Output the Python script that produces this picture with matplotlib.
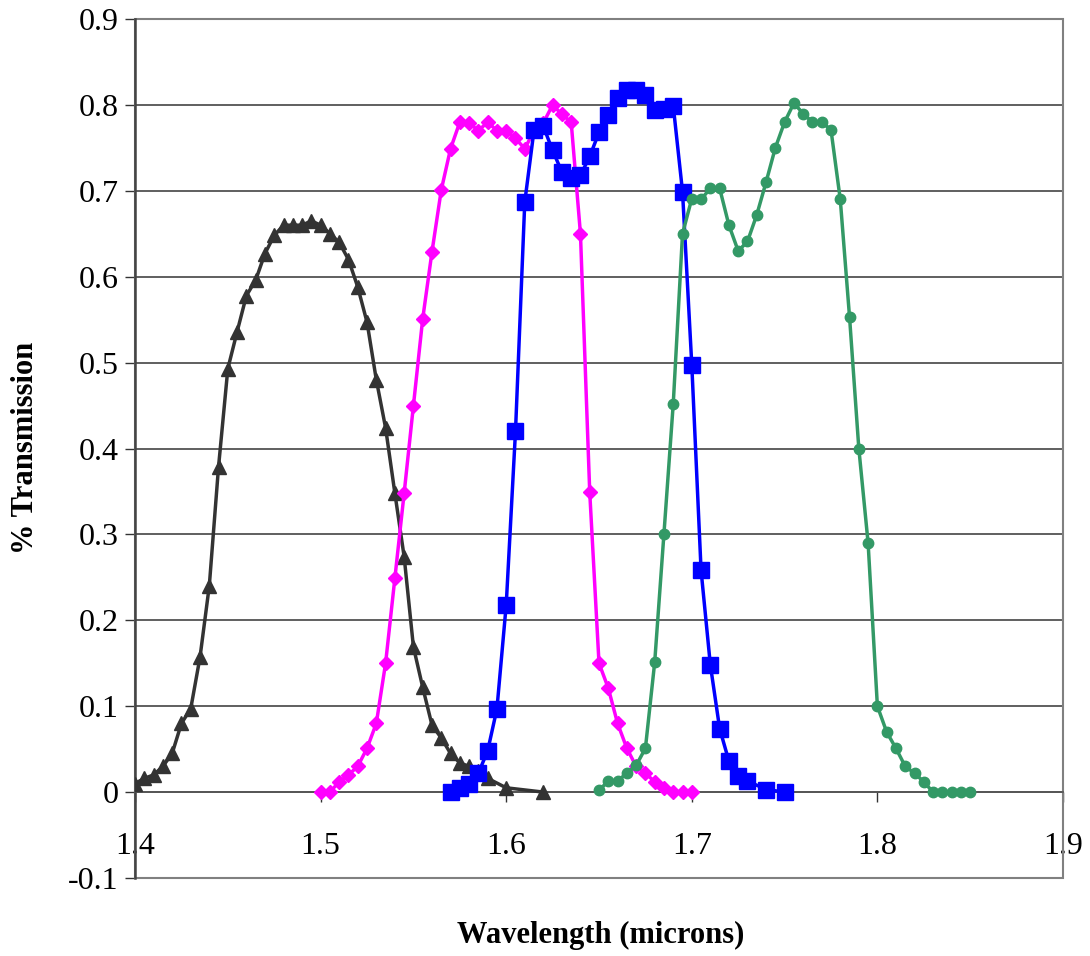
import numpy as np
import matplotlib
matplotlib.use('Agg')
import matplotlib.pyplot as plt
from matplotlib.patches import Rectangle

plt.rcParams['font.family'] = ['Liberation Serif', 'DejaVu Serif']

# filter curves, wavelength (microns) vs transmission
wl_black = [1.400, 1.405, 1.410, 1.415, 1.420, 1.425, 1.430, 1.435, 1.440, 1.445,
            1.450, 1.455, 1.460, 1.465, 1.470, 1.475, 1.480, 1.485, 1.490, 1.495,
            1.500, 1.505, 1.510, 1.515, 1.520, 1.525, 1.530, 1.535, 1.540, 1.545,
            1.550, 1.555, 1.560, 1.565, 1.570, 1.575, 1.580, 1.585, 1.590, 1.600, 1.620]
tr_black = [0.010, 0.016, 0.020, 0.030, 0.045, 0.080, 0.097, 0.157, 0.240, 0.379,
            0.493, 0.536, 0.578, 0.596, 0.627, 0.648, 0.660, 0.660, 0.660, 0.665,
            0.660, 0.650, 0.640, 0.620, 0.588, 0.547, 0.480, 0.424, 0.348, 0.274,
            0.169, 0.122, 0.078, 0.063, 0.045, 0.034, 0.030, 0.024, 0.016, 0.005, 0.000]

wl_pink = [1.500, 1.505, 1.510, 1.515, 1.520, 1.525, 1.530, 1.535, 1.540, 1.545,
           1.550, 1.555, 1.560, 1.565, 1.570, 1.575, 1.580, 1.585, 1.590, 1.595,
           1.600, 1.605, 1.610, 1.615, 1.620, 1.625, 1.630, 1.635, 1.640, 1.645,
           1.650, 1.655, 1.660, 1.665, 1.670, 1.675, 1.680, 1.685, 1.690, 1.695, 1.700]
tr_pink = [0.000, 0.000, 0.012, 0.020, 0.030, 0.051, 0.080, 0.150, 0.249, 0.348,
           0.450, 0.551, 0.629, 0.701, 0.749, 0.780, 0.779, 0.770, 0.780, 0.770,
           0.770, 0.761, 0.749, 0.770, 0.779, 0.800, 0.789, 0.780, 0.650, 0.349,
           0.150, 0.121, 0.080, 0.051, 0.030, 0.022, 0.012, 0.005, 0.000, 0.000, 0.000]

wl_blue = [1.570, 1.575, 1.580, 1.585, 1.590, 1.595, 1.600, 1.605, 1.610, 1.615,
           1.620, 1.625, 1.630, 1.635, 1.640, 1.645, 1.650, 1.655, 1.660, 1.665,
           1.670, 1.675, 1.680, 1.685, 1.690, 1.695, 1.700, 1.705, 1.710, 1.715,
           1.720, 1.725, 1.730, 1.740, 1.750]
tr_blue = [0.000, 0.005, 0.010, 0.022, 0.048, 0.097, 0.218, 0.420, 0.687, 0.771,
           0.775, 0.747, 0.722, 0.715, 0.718, 0.740, 0.768, 0.788, 0.808, 0.817,
           0.817, 0.811, 0.794, 0.795, 0.799, 0.699, 0.497, 0.258, 0.148, 0.074,
           0.036, 0.019, 0.013, 0.003, 0.000]

wl_green = [1.650, 1.655, 1.660, 1.665, 1.670, 1.675, 1.680, 1.685, 1.690, 1.695,
            1.700, 1.705, 1.710, 1.715, 1.720, 1.725, 1.730, 1.735, 1.740, 1.745,
            1.750, 1.755, 1.760, 1.765, 1.770, 1.775, 1.780, 1.785, 1.790, 1.795,
            1.800, 1.805, 1.810, 1.815, 1.820, 1.825, 1.830, 1.835, 1.840, 1.845, 1.850]
tr_green = [0.002, 0.013, 0.013, 0.022, 0.031, 0.051, 0.151, 0.301, 0.452, 0.650,
            0.691, 0.690, 0.703, 0.703, 0.660, 0.630, 0.641, 0.672, 0.710, 0.750,
            0.780, 0.802, 0.790, 0.780, 0.780, 0.771, 0.690, 0.553, 0.400, 0.290,
            0.100, 0.070, 0.051, 0.030, 0.022, 0.012, 0.000, 0.000, 0.000, 0.000, 0.000]

x_ticks = [1.4, 1.5, 1.6, 1.7, 1.8, 1.9]
x_ticklabels = ['1.4', '1.5', '1.6', '1.7', '1.8', '1.9']
y_ticks = [-0.1, 0.0, 0.1, 0.2, 0.3, 0.4, 0.5, 0.6, 0.7, 0.8, 0.9]
y_ticklabels = ['-0.1', '0', '0.1', '0.2', '0.3', '0.4', '0.5', '0.6', '0.7', '0.8', '0.9']


fig = plt.figure(figsize=(10.9, 9.56), dpi=100)
ax = fig.add_axes([0.1239, 0.0816, 0.8513, 0.8985])

ax.set_xlim(1.4, 1.9)
ax.set_ylim(-0.1, 0.9)

for yv in y_ticks:
    ax.axhline(yv, color='#444444', lw=1.2, zorder=1)

lw = 2.5
ax.plot(wl_black, tr_black, color='#333333', lw=lw, marker='^', ms=9.5, zorder=3)
ax.plot(wl_pink, tr_pink, color='#FF00FF', lw=lw, marker='D', ms=7, zorder=4)
ax.plot(wl_blue, tr_blue, color='#0000FF', lw=lw, marker='s', ms=12, zorder=5)
ax.plot(wl_green, tr_green, color='#339966', lw=lw, marker='o', ms=7.5, zorder=6)

# plot area border (gray) and axes through zero
for s in ['top', 'right']:
    ax.spines[s].set_visible(False)
ax.add_patch(Rectangle((0, 0), 1, 1, transform=ax.transAxes, fill=False,
                       edgecolor='#808080', lw=1.5, zorder=2, clip_on=False))
ax.spines['bottom'].set_position(('data', 0))
ax.spines['bottom'].set_color('#555555')
ax.spines['bottom'].set_linewidth(1.2)
ax.spines['left'].set_color('#444444')
ax.spines['left'].set_linewidth(1.8)

ax.set_xticks(x_ticks)
ax.set_xticklabels(x_ticklabels)
ax.set_yticks(y_ticks)
ax.set_yticklabels(y_ticklabels)
ax.tick_params(axis='x', direction='out', length=7, width=1, pad=22,
               labelsize=23, color='#333333')
ax.tick_params(axis='y', direction='out', length=7, width=1, pad=5,
               labelsize=23, color='#333333')

fig.text(0.551, 0.022, 'Wavelength (microns)', fontsize=22, fontweight='bold',
         ha='center', va='center')
fig.text(0.023, 0.532, '% Transmission', fontsize=22, fontweight='bold',
         rotation=90, ha='center', va='center')

plt.savefig('out.png', dpi=100)
